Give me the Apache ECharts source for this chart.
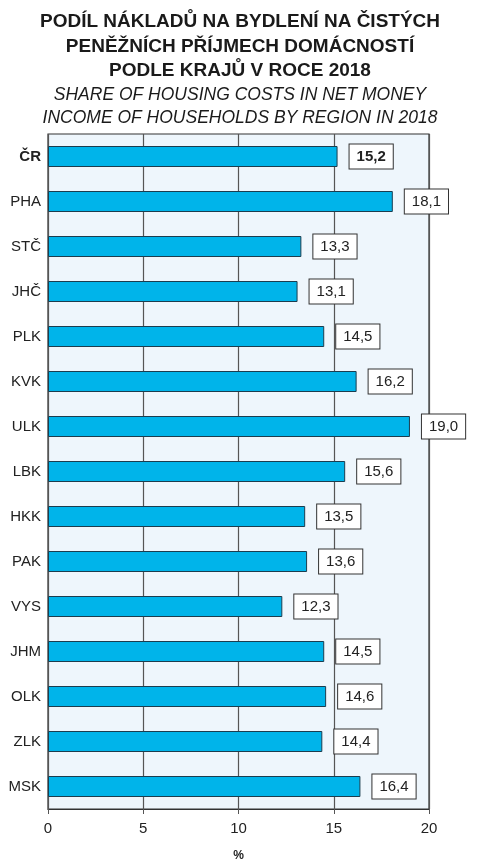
<!DOCTYPE html>
<html>
<head>
<meta charset="utf-8">
<script src="https://cdn.jsdelivr.net/npm/echarts@6/dist/echarts.min.js"></script>
<style>
  html, body { margin: 0; padding: 0; background: #fff; }
  #chart { width: 480px; height: 868px; }
</style>
</head>
<body>
<div id="chart"></div>
<script>
// kraje a podíl nákladů na bydlení (%)
const regions = ['ČR', 'PHA', 'STČ', 'JHČ', 'PLK', 'KVK', 'ULK', 'LBK', 'HKK', 'PAK', 'VYS', 'JHM', 'OLK', 'ZLK', 'MSK']
const shares = [15.2, 18.1, 13.3, 13.1, 14.5, 16.2, 19.0, 15.6, 13.5, 13.6, 12.3, 14.5, 14.6, 14.4, 16.4]
const xTicks = [0, 5, 10, 15, 20]

const font = '"Liberation Sans", Arial, sans-serif'
const fmt = v => v.toFixed(1).replace('.', ',')

const chart = echarts.init(document.getElementById('chart'))

chart.setOption({
  animation: false,
  textStyle: { fontFamily: font },
  title: [
    {
      text: 'PODÍL NÁKLADŮ NA BYDLENÍ NA ČISTÝCH\nPENĚŽNÍCH PŘÍJMECH DOMÁCNOSTÍ\nPODLE KRAJŮ V ROCE 2018',
      left: 'center', top: 5,
      textStyle: { fontFamily: font, fontSize: 19, fontWeight: 'bold', color: '#1a1a1a', lineHeight: 24.5, align: 'center' }
    },
    {
      text: 'SHARE OF HOUSING COSTS IN NET MONEY\nINCOME OF HOUSEHOLDS BY REGION IN 2018',
      left: 'center', top: 79,
      textStyle: { fontFamily: font, fontSize: 17.5, fontWeight: 'normal', fontStyle: 'italic', color: '#1a1a1a', lineHeight: 23, align: 'center' }
    }
  ],
  grid: {
    left: 48, right: 51, top: 134, bottom: 59,
    show: true, backgroundColor: '#eef6fc', borderColor: '#333', borderWidth: 1.2
  },
  xAxis: {
    type: 'value', min: 0, max: 20, interval: 5,
    name: '%', nameLocation: 'middle', nameGap: 41,
    nameTextStyle: { fontFamily: font, fontSize: 12, fontWeight: 'bold', color: '#222' },
    axisLine: { show: true, lineStyle: { color: '#333', width: 1.2 } },
    axisTick: { show: true, length: 5, lineStyle: { color: '#555' } },
    axisLabel: {
      margin: 12, fontSize: 15, color: '#222',
      formatter: v => xTicks.includes(v) ? String(v) : ''
    },
    splitLine: { show: true, lineStyle: { color: '#555', width: 1.2 } }
  },
  yAxis: {
    type: 'category', data: regions, inverse: true,
    axisLine: { show: false },
    axisTick: { show: false },
    axisLabel: {
      margin: 7, fontSize: 15, color: '#222',
      formatter: v => v === 'ČR' ? '{b|' + v + '}' : v,
      rich: { b: { fontFamily: font, fontSize: 15, fontWeight: 'bold', color: '#222' } }
    }
  },
  series: [{
    type: 'bar',
    data: shares.map((v, i) => ({
      value: v,
      label: i === 0 ? { fontWeight: 'bold' } : undefined
    })),
    barWidth: 21,
    itemStyle: { color: '#00b4ea', borderColor: '#1b3d4f', borderWidth: 1 },
    label: {
      show: true, position: 'right', distance: 12,
      formatter: p => fmt(p.value),
      fontFamily: font, fontSize: 15, color: '#222',
      backgroundColor: '#fff', borderColor: '#333', borderWidth: 1,
      padding: [5, 7, 4, 7]
    }
  }]
})
</script>
</body>
</html>
